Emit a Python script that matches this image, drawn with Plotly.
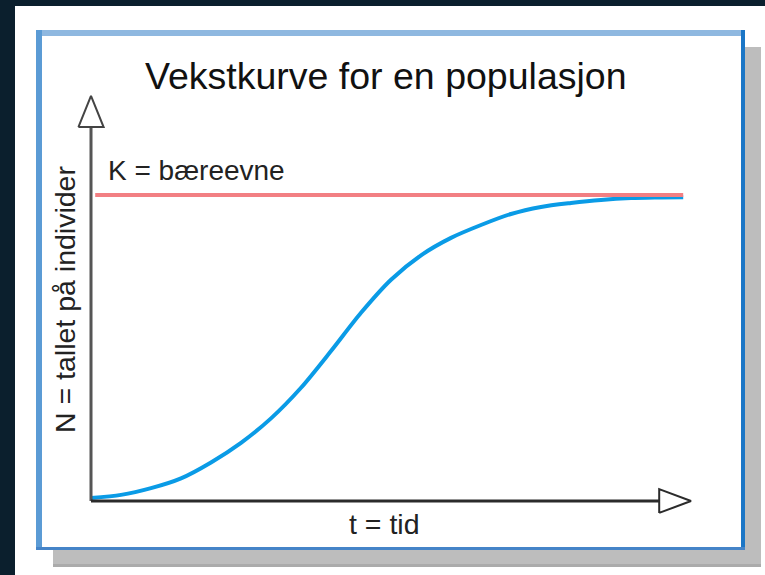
import plotly.graph_objects as go

# ---- data ----
t_values = [0, 0.5, 1, 1.5, 2, 2.5, 3, 3.5, 4, 4.5, 5, 5.5, 6, 6.5, 7, 7.5, 8, 8.5, 9, 9.5, 9.87]
n_values = [1.0, 2.0, 4.2, 7.4, 12.6, 19.0, 27.0, 37.0, 49.0, 61.5, 72.3, 80.3, 86.0, 90.2,
            93.8, 96.1, 97.4, 98.4, 99.0, 99.2, 99.3]
k_capacity = 100
k_t_span = [0.07, 9.87]

title_text = "Vekstkurve for en populasjon"
k_label = "K = bæreevne"
y_label = "N = tallet på individer"
x_label = "t = tid"

# axis decoration geometry (data units)
y_axis_top = 122.2
y_arrow_tip = 132.4
y_arrow_half = 0.21
x_axis_end = 9.47
x_arrow_tip = 10.0
x_arrow_half = 3.9

W, H = 765, 575
FONT = "Liberation Sans, Arial, sans-serif"

def px(x):
    return x / W

def py(y):
    return 1 - y / H

fig = go.Figure()

# blue growth curve
fig.add_trace(go.Scatter(x=t_values, y=n_values, mode="lines",
                         line=dict(color="#0a9be6", width=4, shape="spline", smoothing=0.8),
                         hoverinfo="skip", showlegend=False))
# carrying capacity line
fig.add_trace(go.Scatter(x=k_t_span, y=[k_capacity, k_capacity], mode="lines",
                         line=dict(color="#f27f83", width=4),
                         hoverinfo="skip", showlegend=False))
# y axis with hollow arrow
fig.add_trace(go.Scatter(x=[0, 0], y=[0, y_axis_top], mode="lines",
                         line=dict(color="#555555", width=3),
                         hoverinfo="skip", showlegend=False))
fig.add_trace(go.Scatter(x=[-y_arrow_half, 0, y_arrow_half, -y_arrow_half],
                         y=[y_axis_top, y_arrow_tip, y_axis_top, y_axis_top],
                         mode="lines", fill="toself", fillcolor="white",
                         line=dict(color="#444444", width=2),
                         hoverinfo="skip", showlegend=False))
# x axis with hollow arrow
fig.add_trace(go.Scatter(x=[0, x_axis_end], y=[0, 0], mode="lines",
                         line=dict(color="#2b2b2b", width=3),
                         hoverinfo="skip", showlegend=False))
fig.add_trace(go.Scatter(x=[x_axis_end, x_arrow_tip, x_axis_end, x_axis_end],
                         y=[-x_arrow_half, 0, x_arrow_half, -x_arrow_half],
                         mode="lines", fill="toself", fillcolor="white",
                         line=dict(color="#2b2b2b", width=2),
                         hoverinfo="skip", showlegend=False))

shapes = [
    # white page area
    dict(type="rect", xref="paper", yref="paper", x0=px(15), x1=1, y0=0, y1=py(6),
         fillcolor="white", line=dict(width=0), layer="below"),
    # shadow
    dict(type="rect", xref="paper", yref="paper", x0=px(53), x1=px(761), y0=py(567), y1=py(47),
         fillcolor="#bdbdbd", line=dict(width=0), layer="below"),
    dict(type="rect", xref="paper", yref="paper", x0=px(53), x1=px(761), y0=py(567), y1=py(564),
         fillcolor="#ababab", line=dict(width=0), layer="below"),
    # box
    dict(type="rect", xref="paper", yref="paper", x0=px(36), x1=px(745), y0=py(550), y1=py(30),
         fillcolor="white", line=dict(width=0), layer="below"),
    # borders
    dict(type="rect", xref="paper", yref="paper", x0=px(36), x1=px(745), y0=py(36), y1=py(30),
         fillcolor="#8fb8e0", line=dict(width=0), layer="below"),
    dict(type="rect", xref="paper", yref="paper", x0=px(36), x1=px(42), y0=py(550), y1=py(30),
         fillcolor="#5b9bd5", line=dict(width=0), layer="below"),
    dict(type="rect", xref="paper", yref="paper", x0=px(741), x1=px(745), y0=py(550), y1=py(30),
         fillcolor="#1b76c6", line=dict(width=0), layer="below"),
    dict(type="rect", xref="paper", yref="paper", x0=px(36), x1=px(745), y0=py(550), y1=py(547),
         fillcolor="#4584c8", line=dict(width=0), layer="below"),
]

annotations = [
    dict(text=title_text, xref="paper", yref="paper", x=px(386), y=py(76),
         xanchor="center", yanchor="middle", showarrow=False,
         font=dict(family=FONT, size=37.5, color="#111111")),
    dict(text=k_label, xref="paper", yref="paper", x=px(106), y=py(170),
         xanchor="left", yanchor="middle", showarrow=False,
         font=dict(family=FONT, size=28, color="#222222")),
    dict(text=y_label, xref="paper", yref="paper", x=px(65), y=py(300),
         xanchor="center", yanchor="middle", showarrow=False, textangle=-90,
         font=dict(family=FONT, size=28.5, color="#222222")),
    dict(text=x_label, xref="paper", yref="paper", x=px(384), y=py(524),
         xanchor="center", yanchor="middle", showarrow=False,
         font=dict(family=FONT, size=28.5, color="#222222")),
]

fig.update_layout(
    width=W, height=H,
    margin=dict(l=0, r=0, t=0, b=0),
    paper_bgcolor="#0b1f2d",
    plot_bgcolor="rgba(0,0,0,0)",
    showlegend=False,
    shapes=shapes,
    annotations=annotations,
    xaxis=dict(range=[-91 / 60, 674 / 60], visible=False, fixedrange=True, domain=[0, 1]),
    yaxis=dict(range=[-74 / 3.06, 501 / 3.06], visible=False, fixedrange=True, domain=[0, 1]),
)

fig.write_html("out.html",
               config={"displayModeBar": False, "staticPlot": True},
               post_script="document.body.style.margin='0';document.body.style.overflow='hidden';")
